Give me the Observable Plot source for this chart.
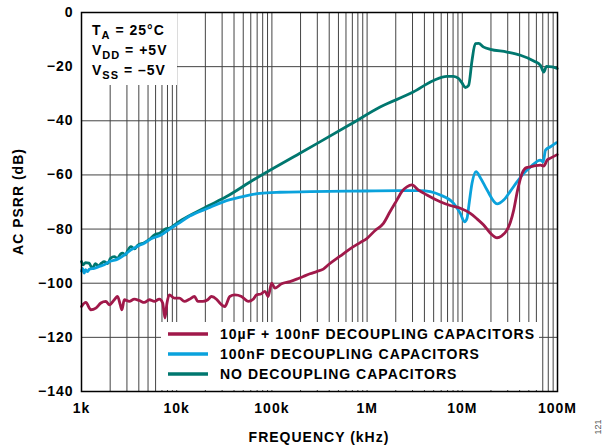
<!DOCTYPE html>
<html><head><meta charset="utf-8">
<script src="https://cdn.jsdelivr.net/npm/d3@7"></script>
<script src="https://cdn.jsdelivr.net/npm/@observablehq/plot@0.6"></script>
<style>
body{margin:0;background:#fff}
#chart svg text{letter-spacing:1px}
</style>
</head><body><div id="chart"></div>
<script>
// ---- data (frequency in Hz, PSRR in dB) ----
const seriesNames = ["10µF + 100nF DECOUPLING CAPACITORS", "100nF DECOUPLING CAPACITORS", "NO DECOUPLING CAPACITORS"];
const seriesColors = ["#a0194a", "#0aa2dc", "#00776f"];

const redFreq = [1000,1110,1253,1414,1597,1803,1957,2210,2393,2555,2656,2815,3178,3587,4050,4571,5160,5826,6575,7123,7530,7906,8380,9458,10680,12050,13610,15360,16640,18780,21200,23190,26170,28360,32010,36130,40780,47980,56300,63560,69020,76600,84400,91440,99260,107600,126500,154700,182000,213600,251200,295400,346700,401000,519700,662400,844000,993000,1214000,1485000,1746000,2054000,2335000,2618000,2954000,3443000,4250000,5866000,7480000,9530000,12140000,14040000,16760000,19710000,23200000,25730000,29540000,32000000,34670000,37900000,42500000,47200000,52000000,58660000,66200000,71700000,77900000,84400000,99300000];
const redDb = [-108.6,-107.1,-109.8,-109.2,-107.3,-106.7,-108.0,-106.1,-104.9,-108.0,-109.8,-106.1,-106.7,-105.9,-106.4,-107.1,-106.1,-106.7,-105.9,-107.3,-112.9,-107.3,-104.3,-105.5,-105.5,-106.7,-105.9,-104.9,-106.7,-106.7,-106.1,-104.9,-105.9,-107.3,-108.6,-104.9,-104.3,-104.9,-106.7,-105.9,-104.3,-104.0,-103.0,-104.9,-100.0,-101.8,-100.2,-99.4,-98.5,-97.5,-96.5,-95.7,-94.8,-92.9,-90.0,-87.3,-85.0,-83.5,-80.5,-77.9,-73.5,-69.3,-66.0,-64.4,-63.7,-65.5,-67.4,-69.9,-71.3,-72.3,-74.2,-76.0,-78.5,-81.5,-83.2,-82.6,-80.3,-77.5,-73.0,-66.0,-59.4,-57.3,-57.0,-56.6,-56.4,-56.7,-54.5,-53.8,-52.5];

const blueFreq = [1000,1024,1068,1102,1157,1214,1360,1547,1734,1971,2393,2836,3303,3886,4571,5456,6834,8440,10245,13700,21200,33370,51970,74760,121400,251200,662400,2226000,3613000,5866000,8100000,9530000,10570000,11210000,11850000,12650000,13940000,15470000,18200000,23200000,27200000,32000000,37700000,43900000,52000000,66200000,70700000,74800000,84400000,97600000];
const blueDb = [-95.5,-94.5,-96.3,-95.0,-95.7,-94.8,-94.5,-93.8,-93.2,-92.0,-91.1,-89.5,-87.7,-86.3,-85.2,-83.5,-82.2,-80.0,-78.1,-75.2,-72.3,-69.5,-67.8,-66.8,-66.4,-66.2,-66.0,-65.8,-65.8,-67.4,-70.5,-74.2,-77.3,-76.0,-70.0,-63.1,-58.8,-61.0,-65.6,-70.7,-69.3,-66.0,-62.5,-59.5,-57.0,-54.5,-55.2,-50.8,-49.6,-48.1];

const tealFreq = [1000,1040,1100,1200,1300,1400,1510,1620,1730,1880,2020,2210,2390,2570,2700,2900,3050,3300,3610,3890,4570,5160,5830,6620,7660,8440,10200,13700,21200,33400,63600,197000,662000,1370000,3050000,5000000,6900000,8100000,9140000,9930000,10760000,11650000,12650000,13700000,14850000,16800000,19700000,29500000,40800000,56300000,66200000,71700000,76600000,87900000,99300000];
const tealDb = [-92.0,-93.2,-92.4,-92.6,-94.5,-92.8,-93.6,-92.6,-92.0,-92.8,-90.8,-90.2,-90.8,-89.2,-88.9,-89.5,-88.0,-86.5,-87.3,-86.0,-85.0,-83.8,-82.2,-81.5,-79.9,-79.6,-77.6,-75.0,-71.5,-68.0,-61.9,-52.0,-41.4,-34.9,-29.4,-25.1,-23.6,-23.6,-24.4,-26.0,-27.7,-26.9,-17.7,-11.5,-11.4,-12.8,-13.6,-14.6,-15.8,-17.9,-19.5,-22.0,-19.9,-20.1,-20.7];

const xTicks = [1e3, 1e4, 1e5, 1e6, 1e7, 1e8];
const xTickLabels = ["1k", "10k", "100k", "1M", "10M", "100M"];
const yTicks = [0, -20, -40, -60, -80, -100, -120, -140];
const xTitle = "FREQUENCY (kHz)";
const yTitle = "AC PSRR (dB)";
const conditions = [["T", "A", " = 25°C"], ["V", "DD", " = +5V"], ["V", "SS", " = \u20135V"]];
const figureNumber = "121";

// grid lines at 1..9 × each decade
const gridX = [];
for (let e = 3; e < 8; e++) for (let m = 1; m < 10; m++) gridX.push(m * 10 ** e);
gridX.push(1e8);

const W = 605, H = 448;
const mL = 81, mR = 48, mT = 12, mB = 57;

const plot = Plot.plot({
  width: W, height: H,
  marginLeft: mL, marginRight: mR, marginTop: mT, marginBottom: mB,
  style: {fontFamily: "'Liberation Sans', Arial, Helvetica, sans-serif", fontSize: "14px", fontWeight: "bold", color: "#000", background: "#fff"},
  x: {type: "log", domain: [1e3, 1e8]},
  y: {domain: [-140, 0]},
  marks: [
    Plot.ruleX(gridX, {stroke: "#444", strokeWidth: 1}),
    Plot.ruleY(yTicks, {stroke: "#444", strokeWidth: 1}),
    Plot.line(tealDb, {x: tealFreq, y: tealDb, stroke: seriesColors[2], strokeWidth: 2.8, curve: "monotone-x"}),
    Plot.line(blueDb, {x: blueFreq, y: blueDb, stroke: seriesColors[1], strokeWidth: 2.8, curve: "monotone-x"}),
    Plot.line(redDb, {x: redFreq, y: redDb, stroke: seriesColors[0], strokeWidth: 2.8, curve: "monotone-x"}),
    Plot.axisX(xTicks, {tickFormat: d => xTickLabels[xTicks.indexOf(d)], tickSize: 0, tickPadding: 12, label: null}),
    Plot.axisY(yTicks, {tickSize: 0, tickPadding: 8, label: null}),
    Plot.frame({stroke: "#000", strokeWidth: 1.5})
  ]
});

const svg = d3.select(plot);
// white boxes behind the annotation and the legend (above the grid, below curves)
const boxes = svg.insert("g", "g[aria-label='line']");
boxes.append("rect").attr("x", mL + 1).attr("y", mT + 1).attr("width", 95).attr("height", 72).attr("fill", "#fff");
boxes.append("rect").attr("x", 161).attr("y", 322).attr("width", 378).attr("height", H - mB - 322 - 1).attr("fill", "#fff");

// conditions annotation
const ann = svg.append("g").attr("font-size", 14).attr("font-weight", "bold").attr("fill", "#000").attr("text-anchor", "start");
conditions.forEach((c, i) => {
  const t = ann.append("text").attr("x", 92).attr("y", 35 + i * 20);
  t.append("tspan").text(c[0]);
  t.append("tspan").attr("font-size", 11).attr("dy", 4).text(c[1]);
  t.append("tspan").attr("dy", -4).text(c[2]);
});

// legend
const leg = svg.append("g").attr("font-size", 14).attr("font-weight", "bold").attr("text-anchor", "start");
seriesNames.forEach((name, i) => {
  const y = 334 + i * 20;
  leg.append("line").attr("x1", 168).attr("x2", 208).attr("y1", y).attr("y2", y)
    .attr("stroke", seriesColors[i]).attr("stroke-width", 3.5);
  leg.append("text").attr("x", 220).attr("y", y + 5).attr("fill", "#000").text(name);
});

// axis titles
svg.append("text").attr("x", (mL + W - mR) / 2).attr("y", 442).attr("text-anchor", "middle")
  .attr("font-size", 14).attr("font-weight", "bold").text(xTitle);
svg.append("text").attr("transform", `translate(23,${(mT + H - mB) / 2}) rotate(-90)`).attr("text-anchor", "middle")
  .attr("font-size", 14).attr("font-weight", "bold").text(yTitle);
svg.append("text").attr("transform", "translate(601,427) rotate(-90)").attr("text-anchor", "middle")
  .attr("font-size", 9).attr("font-weight", "normal").attr("fill", "#555").style("letter-spacing", "0px").text(figureNumber);

document.getElementById("chart").append(plot);
</script>
</body></html>
